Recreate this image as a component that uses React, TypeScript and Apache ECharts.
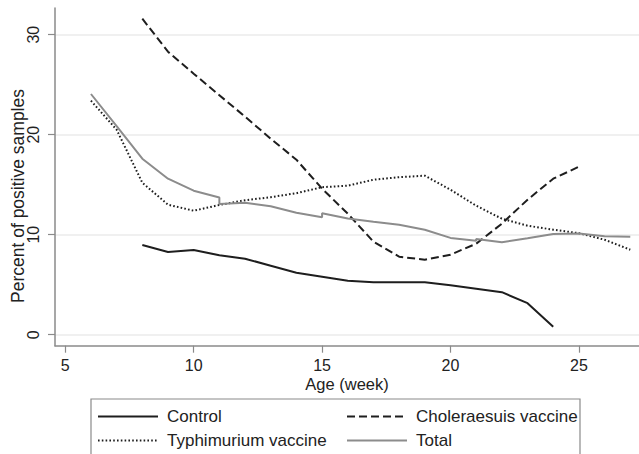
import React, { useEffect, useRef } from "react";
import * as echarts from "echarts";

const controlWeeks = [8, 9, 10, 11, 12, 13, 14, 15, 16, 17, 18, 19, 20, 21, 22, 23, 24];
const controlValues = [8.97, 8.27, 8.47, 7.94, 7.6, 6.9, 6.2, 5.8, 5.4, 5.25, 5.25, 5.25, 4.95, 4.6, 4.25, 3.15, 0.8];

const choleraWeeks = [8, 9, 10, 11, 12, 13, 14, 15, 16, 17, 18, 19, 20, 21, 22, 23, 24, 25];
const choleraValues = [31.6, 28.3, 26.1, 23.95, 21.8, 19.6, 17.5, 14.6, 12.1, 9.3, 7.8, 7.5, 8.0, 9.1, 11.1, 13.5, 15.6, 16.8];

const typhiWeeks = [6, 7, 8, 9, 10, 11, 12, 13, 14, 15, 16, 17, 18, 19, 20, 21, 22, 23, 24, 25, 26, 27];
const typhiValues = [23.4, 20.5, 15.2, 13.0, 12.4, 12.97, 13.45, 13.75, 14.15, 14.75, 14.9, 15.5, 15.75, 15.9, 14.5, 12.9, 11.6, 10.9, 10.5, 10.15, 9.5, 8.5];

const totalWeeks = [6, 7, 8, 9, 10, 11, 11, 12, 13, 14, 15, 15, 16, 17, 18, 19, 20, 21, 21, 22, 23, 24, 25, 26, 27];
const totalValues = [24.07, 20.85, 17.6, 15.6, 14.4, 13.72, 13.07, 13.2, 12.85, 12.2, 11.75, 12.14, 11.62, 11.3, 11.0, 10.5, 9.68, 9.4, 9.58, 9.25, 9.64, 10.07, 10.13, 9.85, 9.8];

const xTicks = [5, 10, 15, 20, 25];
const yTicks = [0, 10, 20, 30];

const pairs = (xs: number[], ys: number[]) => xs.map((x, i) => [x, ys[i]]);

export default function App() {
  const ref = useRef<HTMLDivElement>(null);
  useEffect(() => {
    const chart = echarts.init(ref.current!, null, { renderer: "svg" });
    const font = "'Liberation Sans', Arial, Helvetica, sans-serif";
    const axisColor = "#8a8a8a";
    const textColor = "#222";
    const legendCommon = {
      orient: "vertical",
      top: 408,
      itemWidth: 60,
      itemHeight: 14,
      itemGap: 7,
      padding: 0,
      itemStyle: { opacity: 0 },
      textStyle: { fontSize: 17, color: textColor, fontFamily: font, padding: [0, 0, 0, 4] },
    };
    chart.setOption({
      animation: false,
      backgroundColor: "#fff",
      textStyle: { fontFamily: font },
      grid: { left: 55, right: 0, top: 8, bottom: 108.3, containLabel: false, outerBoundsMode: "none" },
      xAxis: {
        type: "value",
        min: 4.6,
        max: 27.34,
        axisLine: { show: true, onZero: false, lineStyle: { color: axisColor, width: 1.5 } },
        axisTick: { show: true, length: 7, customValues: xTicks, lineStyle: { color: axisColor, width: 1.2 } },
        axisLabel: { customValues: xTicks, margin: 12, fontSize: 16, color: textColor, fontFamily: font },
        splitLine: { show: false },
      },
      yAxis: {
        type: "value",
        min: -1.1,
        max: 32.67,
        axisLine: { show: true, onZero: false, lineStyle: { color: axisColor, width: 1.5 } },
        axisTick: { show: true, length: 7, customValues: yTicks, lineStyle: { color: axisColor, width: 1.2 } },
        axisLabel: { customValues: yTicks, rotate: 90, margin: 14, fontSize: 16, color: textColor, fontFamily: font },
        splitLine: { show: true, lineStyle: { color: "#ebebeb", width: 1.5 } },
      },
      legend: [
        { ...legendCommon, left: 97, data: ["Control", "Typhimurium vaccine"] },
        { ...legendCommon, left: 346, data: ["Choleraesuis vaccine", "Total"] },
      ],
      graphic: [
        {
          type: "text",
          x: 18,
          y: 196,
          rotation: Math.PI / 2,
          silent: true,
          style: {
            text: "Percent of positive samples",
            fontSize: 17.5,
            fontFamily: font,
            fill: textColor,
            textAlign: "center",
            textVerticalAlign: "middle",
          },
        },
        {
          type: "text",
          x: 347,
          y: 384,
          silent: true,
          style: {
            text: "Age (week)",
            fontSize: 16.5,
            fontFamily: font,
            fill: textColor,
            textAlign: "center",
            textVerticalAlign: "middle",
          },
        },
        {
          type: "rect",
          shape: { x: 91, y: 399, width: 489, height: 70 },
          style: { fill: "none", stroke: "#8a8a8a", lineWidth: 1.2 },
          silent: true,
        },
      ],
      series: [
        {
          name: "Control",
          type: "line",
          symbol: "none",
          data: pairs(controlWeeks, controlValues),
          lineStyle: { color: "#1e1e1e", width: 2 },
          itemStyle: { color: "#1e1e1e" },
        },
        {
          name: "Choleraesuis vaccine",
          type: "line",
          symbol: "none",
          data: pairs(choleraWeeks, choleraValues),
          lineStyle: { color: "#1e1e1e", width: 2, type: [8, 4] },
          itemStyle: { color: "#1e1e1e" },
        },
        {
          name: "Typhimurium vaccine",
          type: "line",
          symbol: "none",
          data: pairs(typhiWeeks, typhiValues),
          lineStyle: { color: "#1e1e1e", width: 2, type: [1.6, 2.2] },
          itemStyle: { color: "#1e1e1e" },
        },
        {
          name: "Total",
          type: "line",
          symbol: "none",
          data: pairs(totalWeeks, totalValues),
          lineStyle: { color: "#8c8c8c", width: 2 },
          itemStyle: { color: "#8c8c8c" },
        },
      ],
    });
    return () => chart.dispose();
  }, []);
  return (
    <div
      ref={ref}
      style={{ position: "absolute", left: 0, top: 0, width: 639, height: 454, background: "#fff" }}
    />
  );
}
